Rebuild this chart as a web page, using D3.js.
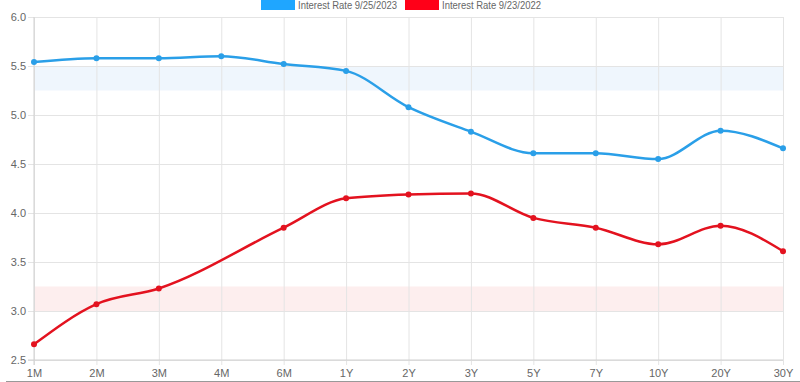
<!DOCTYPE html>
<html>
<head>
<meta charset="utf-8">
<script src="https://cdn.jsdelivr.net/npm/d3@7"></script>
<style>
  body { margin: 0; background: #fff; }
  text { font-family: "Liberation Sans", Arial, sans-serif; }
</style>
</head>
<body>
<script>
var width = 800;
var height = 382;
var margin = {top: 17, bottom: 22, left: 34, right: 17};

var terms = ["1M", "2M", "3M", "4M", "6M", "1Y", "2Y", "3Y", "5Y", "7Y", "10Y", "20Y", "30Y"];
var rates2023 = [5.54, 5.58, 5.58, 5.60, 5.52, 5.45, 5.08, 4.83, 4.61, 4.61, 4.55, 4.84, 4.66];
var rates2022 = [2.66, 3.07, 3.23, null, 3.85, 4.15, 4.19, 4.20, 3.95, 3.85, 3.68, 3.87, 3.61];
var yTicks = [2.5, 3.0, 3.5, 4.0, 4.5, 5.0, 5.5, 6.0];
var seriesNames = ["Interest Rate 9/25/2023", "Interest Rate 9/23/2022"];
var bands = [[5.25, 5.5], [3.0, 3.25]];

var colors = ["#2a9fe8", "#e3121f"];
var legendColors = ["#1fa6ff", "#ff0018"];
var bandColors = ["#eff6fd", "#fdeeee"];

var svg = d3.select("body").append("svg")
    .attr("width", width)
    .attr("height", height);

var xScale = d3.scalePoint()
    .domain(terms)
    .range([margin.left, width - margin.right]);

var yScale = d3.scaleLinear()
    .domain([2.5, 6.0])
    .range([height - margin.bottom, margin.top]);

// bands
svg.selectAll("rect.band")
    .data(bands)
    .enter()
    .append("rect")
        .attr("class", "band")
        .attr("x", margin.left)
        .attr("width", width - margin.right - margin.left)
        .attr("y", function(d){ return yScale(d[1]); })
        .attr("height", function(d){ return yScale(d[0]) - yScale(d[1]); })
        .attr("fill", function(d, i){ return bandColors[i]; });

// grid
svg.append("g")
    .attr("transform", "translate(" + margin.left + ",0)")
    .call(d3.axisLeft(yScale)
        .tickValues(yTicks)
        .tickFormat(d3.format(".1f"))
        .tickSize(-(width - margin.left - margin.right)))
    .call(function(g){
        g.select(".domain").remove();
        g.selectAll("line").attr("stroke", "#e4e4e4")
            .attr("x1", -6).attr("x2", width - margin.left - margin.right);
        g.selectAll("text").attr("fill", "#666").attr("font-size", 11).attr("x", -8);
    });

svg.append("g")
    .attr("transform", "translate(0," + (height - margin.bottom) + ")")
    .call(d3.axisBottom(xScale)
        .tickSize(-(height - margin.bottom - margin.top)))
    .call(function(g){
        g.select(".domain").remove();
        g.selectAll("line").attr("stroke", "#e4e4e4")
            .attr("y1", 5).attr("y2", -(height - margin.bottom - margin.top));
        g.selectAll("text").attr("fill", "#666").attr("font-size", 11).attr("y", 9);
    });

// axis lines
svg.append("line")
    .attr("x1", margin.left).attr("x2", margin.left)
    .attr("y1", margin.top).attr("y2", height - margin.bottom + 5)
    .attr("stroke", "#d0d0d0");
svg.append("line")
    .attr("x1", margin.left - 6).attr("x2", width - margin.right)
    .attr("y1", height - margin.bottom).attr("y2", height - margin.bottom)
    .attr("stroke", "#d0d0d0");

// lines
var series = [rates2023, rates2022];
var line = d3.line()
    .x(function(d){ return xScale(d.term); })
    .y(function(d){ return yScale(d.value); })
    .curve(d3.curveMonotoneX);

series.forEach(function(values, i){
    var pts = terms.map(function(t, j){ return {term: t, value: values[j]}; })
        .filter(function(d){ return d.value !== null; });

    svg.append("path")
        .datum(pts)
        .attr("fill", "none")
        .attr("stroke", colors[i])
        .attr("stroke-width", 2.5)
        .attr("d", line);

    svg.selectAll("circle.s" + i)
        .data(pts)
        .enter()
        .append("circle")
            .attr("class", "s" + i)
            .attr("cx", function(d){ return xScale(d.term); })
            .attr("cy", function(d){ return yScale(d.value); })
            .attr("r", 3)
            .attr("fill", colors[i]);
});

// legend
var legendX = [261, 405];
seriesNames.forEach(function(name, i){
    svg.append("rect")
        .attr("x", legendX[i]).attr("y", -3)
        .attr("width", 34).attr("height", 13)
        .attr("fill", legendColors[i]);
    svg.append("text")
        .attr("x", legendX[i] + 37).attr("y", 9)
        .attr("fill", "#666").attr("font-size", 10)
        .attr("textLength", 99)
        .attr("lengthAdjust", "spacingAndGlyphs")
        .text(name);
});

// bottom border
svg.append("line")
    .attr("x1", 6).attr("x2", width)
    .attr("y1", 381.5).attr("y2", 381.5)
    .attr("stroke", "#999");
</script>
</body>
</html>
